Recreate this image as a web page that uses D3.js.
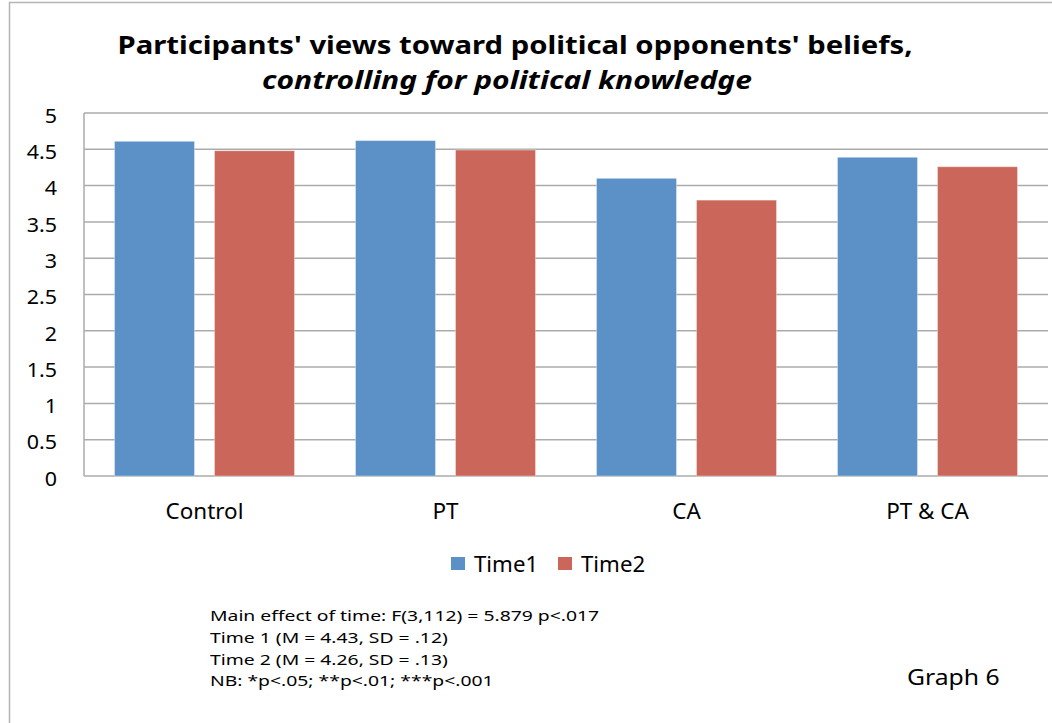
<!DOCTYPE html>
<html>
<head>
<meta charset="utf-8">
<script src="https://cdn.jsdelivr.net/npm/d3@7"></script>
<style>
  body { margin: 0; background: #fff; }
  svg { display: block; }
</style>
</head>
<body>
<svg id="chart" width="1052" height="723"></svg>
<script>
const categories = ['Control', 'PT', 'CA', 'PT & CA'];
const seriesNames = ['Time1', 'Time2'];
const time1 = [4.61, 4.62, 4.10, 4.39];
const time2 = [4.48, 4.49, 3.80, 4.26];
const yTicks = [0, 0.5, 1, 1.5, 2, 2.5, 3, 3.5, 4, 4.5, 5];
const notes = [
  'Main effect of time: F(3,112) = 5.879 p<.017',
  'Time 1 (M = 4.43, SD = .12)',
  'Time 2 (M = 4.26, SD = .13)',
  'NB: *p<.05; **p<.01; ***p<.001'
];

const colors = { Time1: '#5b91c6', Time2: '#cb665b' };
const font = '"Noto Sans", "Open Sans", sans-serif';

const svg = d3.select('#chart').style('font-family', font);

// outer chart frame
svg.append('rect')
  .attr('x', 9.5).attr('y', 2.5)
  .attr('width', 1100).attr('height', 800)
  .attr('fill', 'none')
  .attr('stroke', '#b5b5b5')
  .attr('stroke-width', 1.5);

const plot = { left: 84, right: 1048, top: 113, bottom: 476 };

const x0 = d3.scaleBand()
  .domain(categories)
  .range([plot.left, plot.right]);

const x1 = d3.scaleBand()
  .domain(seriesNames)
  .range([0, x0.bandwidth()])
  .paddingInner(0.2)
  .paddingOuter(0.305);

const y = d3.scaleLinear()
  .domain([0, 5])
  .range([plot.bottom, plot.top]);

// title
svg.append('text')
  .attr('x', 515).attr('y', 54)
  .attr('text-anchor', 'middle')
  .attr('font-size', 25.5)
  .attr('font-weight', 'bold')
  .attr('textLength', 795)
  .attr('lengthAdjust', 'spacingAndGlyphs')
  .text("Participants' views toward political opponents' beliefs,");

svg.append('text')
  .attr('x', 507).attr('y', 89)
  .attr('text-anchor', 'middle')
  .attr('font-size', 25.5)
  .attr('font-weight', 'bold')
  .attr('font-style', 'italic')
  .attr('textLength', 490)
  .attr('lengthAdjust', 'spacingAndGlyphs')
  .text('controlling for political knowledge');

// gridlines
svg.append('g')
  .selectAll('line')
  .data(yTicks)
  .join('line')
  .attr('x1', plot.left).attr('x2', plot.right)
  .attr('y1', d => y(d)).attr('y2', d => y(d))
  .attr('stroke', '#ababab')
  .attr('stroke-width', 1.5);

// plot area left edge
svg.append('line')
  .attr('x1', plot.left).attr('x2', plot.left)
  .attr('y1', plot.top).attr('y2', plot.bottom)
  .attr('stroke', '#ababab')
  .attr('stroke-width', 1.5);

// y axis labels (slightly wide glyphs, like the original)
const yAxis = d3.axisLeft(y)
  .tickValues(yTicks)
  .tickSize(0)
  .tickPadding(0)
  .tickFormat(d3.format('~g'));

const yg = svg.append('g')
  .attr('transform', `translate(${plot.left},0)`)
  .call(yAxis);
yg.select('.domain').remove();
yg.selectAll('text')
  .attr('x', 0)
  .attr('font-family', font)
  .attr('font-size', 19.5)
  .attr('fill', '#000')
  .attr('transform', 'translate(-27,3) scale(1.1,1)');

// bars
const rows = categories.map((c, i) => ({ cat: c, values: [
  { name: 'Time1', value: time1[i] },
  { name: 'Time2', value: time2[i] }
]}));

svg.append('g')
  .selectAll('g')
  .data(rows)
  .join('g')
  .attr('transform', d => `translate(${x0(d.cat)},0)`)
  .selectAll('rect')
  .data(d => d.values)
  .join('rect')
  .attr('x', d => x1(d.name))
  .attr('width', x1.bandwidth())
  .attr('y', d => y(d.value))
  .attr('height', d => y(0) - y(d.value))
  .attr('fill', d => colors[d.name])
  .attr('stroke', 'rgba(255,255,255,0.35)')
  .attr('stroke-width', 1);

// category labels
const xAxis = d3.axisBottom(x0).tickSize(0).tickPadding(28);
const xg = svg.append('g')
  .attr('transform', `translate(0,${plot.bottom})`)
  .call(xAxis);
xg.select('.domain').remove();
xg.selectAll('text')
  .attr('font-family', font)
  .attr('font-size', 21)
  .attr('fill', '#000')
  .attr('transform', 'scale(1.07,1)');

// legend
const legend = svg.append('g').attr('transform', 'translate(451,557)');
const legendItems = legend.selectAll('g')
  .data(seriesNames)
  .join('g')
  .attr('transform', (d, i) => `translate(${i * 107},0)`);
legendItems.append('rect')
  .attr('width', 14).attr('height', 13)
  .attr('fill', d => colors[d]);
legendItems.append('text')
  .attr('font-size', 21)
  .attr('transform', 'translate(23,15) scale(1.06,1)')
  .text(d => d);

// notes
svg.append('g')
  .attr('transform', 'translate(210,0) scale(1.29,1)')
  .selectAll('text')
  .data(notes)
  .join('text')
  .attr('x', 0)
  .attr('y', (d, i) => 621 + i * 21.8)
  .attr('font-size', 15)
  .text(d => d);

svg.append('text')
  .attr('font-size', 22.5)
  .attr('transform', 'translate(907,685) scale(1.1,1)')
  .text('Graph 6');
</script>
</body>
</html>
